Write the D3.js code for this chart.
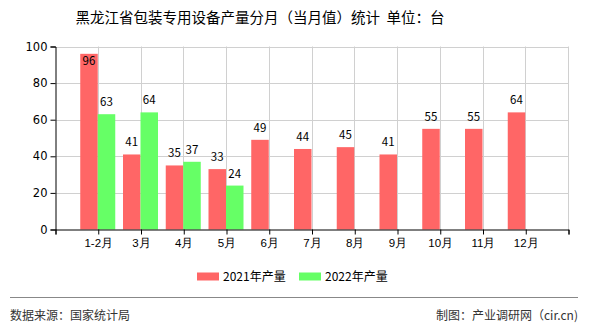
<!DOCTYPE html>
<html>
<head>
<meta charset="utf-8">
<script src="https://cdn.jsdelivr.net/npm/d3@7/dist/d3.min.js"></script>
<style>
  html, body { margin: 0; padding: 0; background: #fff; }
  svg { display: block; font-family: "Noto Sans CJK SC", "DejaVu Sans", sans-serif; }
</style>
</head>
<body>
<svg id="chart" width="590" height="330"></svg>
<script>
const months = ["1-2月", "3月", "4月", "5月", "6月", "7月", "8月", "9月", "10月", "11月", "12月"];
const values2021 = [96, 41, 35, 33, 49, 44, 45, 41, 55, 55, 64];
const values2022 = [63, 64, 37, 24];
const yTicks = [0, 20, 40, 60, 80, 100];
const seriesNames = ["2021年产量", "2022年产量"];
const seriesColors = ["#ff6666", "#66ff66"];

const svg = d3.select("#chart");
const plotLeft = 55, plotRight = 568, plotTop = 46.5, plotBottom = 229.5;

// categories sit on integer positions 1..11 of a 0..12 axis
const x = d3.scaleLinear().domain([0, 12]).range([plotLeft, plotRight]);
const y = d3.scaleLinear().domain([0, 100]).range([plotBottom, plotTop]);
const barW = 17.5;

// title
svg.append("text")
  .attr("x", 260).attr("y", 23)
  .attr("text-anchor", "middle")
  .attr("font-size", 14.5)
  .attr("fill", "#000")
  .attr("xml:space", "preserve")
  .text("黑龙江省包装专用设备产量分月（当月值）统计  单位：台");

// horizontal grid
svg.append("g")
  .selectAll("line").data(yTicks.filter(d => d > 0)).join("line")
  .attr("x1", plotLeft).attr("x2", plotRight)
  .attr("y1", d => Math.round(y(d)) + 0.5).attr("y2", d => Math.round(y(d)) + 0.5)
  .attr("stroke", "#d0d0d0");

// vertical grid at category positions
svg.append("g")
  .selectAll("line").data(d3.range(1, 13)).join("line")
  .attr("x1", d => Math.round(x(d)) + 0.5).attr("x2", d => Math.round(x(d)) + 0.5)
  .attr("y1", plotTop).attr("y2", plotBottom)
  .attr("stroke", "#d0d0d0");

// bars
const bars = svg.append("g");
bars.selectAll("rect.s1").data(values2021).join("rect")
  .attr("class", "s1")
  .attr("x", (d, i) => x(i + 1) - barW)
  .attr("y", d => y(d))
  .attr("width", barW)
  .attr("height", d => y(0) - y(d))
  .attr("fill", seriesColors[0]);
bars.selectAll("rect.s2").data(values2022).join("rect")
  .attr("class", "s2")
  .attr("x", (d, i) => x(i + 1))
  .attr("y", d => y(d))
  .attr("width", barW)
  .attr("height", d => y(0) - y(d))
  .attr("fill", seriesColors[1]);

// value labels, kept inside the plot area
function labelY(v) { return Math.max(y(v) - 8, plotTop + 18); }
const labels = svg.append("g").attr("font-size", 11.5).attr("fill", "#000").attr("text-anchor", "middle");
labels.selectAll("text.l1").data(values2021).join("text")
  .attr("class", "l1")
  .attr("x", (d, i) => x(i + 1) - barW / 2)
  .attr("y", d => labelY(d))
  .text(d => d);
labels.selectAll("text.l2").data(values2022).join("text")
  .attr("class", "l2")
  .attr("x", (d, i) => x(i + 1) + barW / 2)
  .attr("y", d => labelY(d))
  .text(d => d);

// y axis
const yAxis = svg.append("g")
  .attr("transform", `translate(${plotLeft + 0.5},0)`)
  .call(d3.axisLeft(y).tickValues(yTicks).tickSize(5).tickPadding(3));
yAxis.select(".domain").attr("stroke", "#000");
yAxis.selectAll(".tick line").attr("stroke", "#000");
yAxis.selectAll(".tick text").attr("font-size", 11.5).attr("fill", "#000")
  .style("font-family", "'DejaVu Sans', sans-serif");

// x axis
const xAxis = svg.append("g")
  .attr("transform", `translate(0.5,${plotBottom})`)
  .call(d3.axisBottom(x).tickValues(d3.range(0, 13)).tickSize(5).tickPadding(4)
    .tickFormat(d => (d >= 1 && d <= 11) ? months[d - 1] : ""));
xAxis.select(".domain").attr("stroke", "#000");
xAxis.selectAll(".tick line").attr("stroke", "#000");
xAxis.selectAll(".tick text").attr("font-size", 11.5).attr("fill", "#000");

// legend
const legend = svg.append("g").attr("font-size", 12);
seriesNames.forEach((name, i) => {
  const lx = 197 + i * 102;
  legend.append("rect").attr("x", lx).attr("y", 272.5).attr("width", 22).attr("height", 8).attr("fill", seriesColors[i]);
  legend.append("text").attr("x", lx + 26).attr("y", 281).attr("fill", "#000").text(name);
});

// footer
svg.append("line").attr("x1", 10).attr("x2", 578).attr("y1", 297.5).attr("y2", 297.5)
  .attr("stroke", "#888").attr("stroke-width", 1);
svg.append("text").attr("x", 10).attr("y", 320).attr("font-size", 12).attr("fill", "#333")
  .text("数据来源：国家统计局");
svg.append("text").attr("x", 578).attr("y", 320).attr("font-size", 12).attr("fill", "#333")
  .attr("text-anchor", "end").text("制图：产业调研网（cir.cn)");
</script>
</body>
</html>
